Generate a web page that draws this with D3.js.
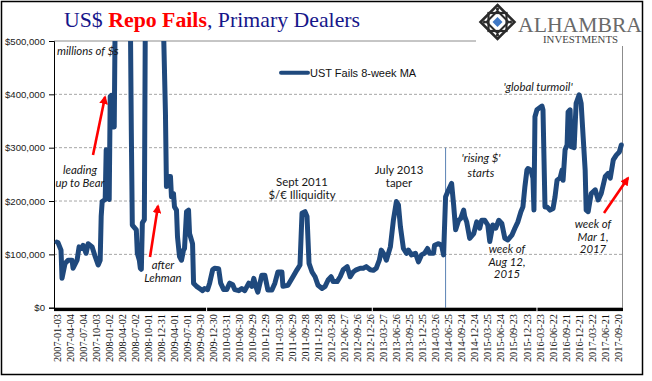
<!DOCTYPE html>
<html>
<head>
<meta charset="utf-8">
<script src="https://cdn.jsdelivr.net/npm/d3@7"></script>
<style>
  body { margin: 0; background: #fff; }
  svg { display: block; }
</style>
</head>
<body>
<div id="chart"></div>
<script>
// weeks counted from 2007-01-03 (weekly series, 8-week moving average)
var weekNo = [0,1,4,5,8,11,15,16,20,22,25,26,29,31,35,38,41,43,44,45,48,49,50,52,53,54,55,57,
  58,60,66,71,73,74,75,79,80,82,83,84,85,87,88,92,100,105,106,108,109,111,113,114,116,117,119,120,
  122,124,126,127,129,131,132,135,136,139,142,145,147,150,152,155,157,161,163,166,169,172,175,177,
  181,184,187,191,194,196,198,200,204,207,210,214,217,220,224,225,230,235,239,242,244,247,249,251,
  254,257,260,264,267,270,273,275,279,282,285,289,292,295,298,302,305,308,312,315,318,321,323,326,
  328,332,335,338,340,342,345,348,350,353,357,360,363,366,369,371,375,376,380,383,385,387,390,393,
  395,397,400,402,405,406,408,411,415,418,421,423,426,429,431,434,437,440,443,446,449,453,456,459,
  462,464,466,468,469,472,474,475,476,478,483,484,486,488,491,494,496,498,501,503,504,506,508,509,
  511,512,515,517,520,522,524,526,527,529,532,536,539,542,546,549,551,554,557,560,562]

// UST fails, millions of $
var fails = [123000,122000,108000,55000,83000,89000,89000,74000,89000,114000,111000,117000,102000,120000,114000,96000,80000,89000,171000,199000,203000,296000,208000,203000,396000,398000,339000,339000,
  560000,800000,900000,800000,560000,333000,155000,146000,102000,89000,74000,72000,159000,165000,560000,850000,850000,700000,530000,365000,227000,246000,246000,208000,214000,189000,183000,133000,
  96000,89000,108000,111000,180000,183000,139000,120000,46000,40000,36000,32000,36000,34000,46000,71000,74000,73000,46000,34000,34000,46000,43000,34000,
  32000,36000,32000,46000,40000,55000,40000,29000,61000,61000,33000,33000,46000,67000,67000,40000,42000,58000,71000,80000,177000,180000,171000,83000,
  67000,58000,42000,36000,40000,52000,58000,49000,49000,58000,71000,77000,58000,67000,71000,74000,74000,77000,71000,70000,74000,89000,108000,99000,
  89000,114000,164000,199000,193000,152000,111000,102000,108000,99000,102000,86000,99000,102000,111000,102000,102000,117000,120000,117000,99000,208000,221000,233000,
  193000,146000,164000,167000,183000,171000,161000,130000,139000,161000,149000,164000,164000,155000,124000,155000,149000,164000,158000,130000,127000,136000,149000,161000,
  180000,189000,227000,258000,261000,258000,243000,183000,358000,371000,378000,371000,189000,189000,183000,186000,208000,239000,243000,258000,239000,296000,305000,367000,
  371000,302000,300000,383000,399000,383000,320000,258000,183000,180000,214000,221000,202000,214000,246000,252000,243000,277000,286000,292000,305000]

var tickLabels = ["2007-01-03","2007-04-04","2007-07-04","2007-10-03","2008-01-02","2008-04-02","2008-07-02","2008-10-01",
  "2008-12-31","2009-04-01","2009-07-01","2009-09-30","2009-12-30","2010-03-31","2010-06-30","2010-09-29","2010-12-29",
  "2011-03-30","2011-06-29","2011-09-28","2011-12-28","2012-03-28","2012-06-27","2012-09-26","2012-12-26","2013-03-27",
  "2013-06-26","2013-09-25","2013-12-25","2014-03-26","2014-06-25","2014-09-24","2014-12-24","2015-03-25","2015-06-24",
  "2015-09-23","2015-12-23","2016-03-23","2016-06-22","2016-09-21","2016-12-21","2017-03-22","2017-06-21","2017-09-20"]
var yTicks = [0, 100000, 200000, 300000, 400000, 500000]
var axisMarkWeeks = [149, 314, 478]
var eventWeek = 387

var W = 652, H = 381
var plotL = 54, plotR = 622, plotT = 41, plotB = 307.7
var navy = "#1f497d"

var svg = d3.select("#chart").append("svg")
  .attr("width", W).attr("height", H)
  .style("font-family", "'Liberation Sans', Arial, sans-serif")

// outer frame
svg.append("rect").attr("x", 1.5).attr("y", 1.5).attr("width", 641).attr("height", 373)
  .attr("fill", "#fff").attr("stroke", "#000").attr("stroke-width", 1.5)

var x = d3.scaleLinear().domain([0, 559]).range([57, 618.3])
var y = d3.scaleLinear().domain([0, 500000]).range([plotB, plotT])

// gridlines
svg.append("g").selectAll("line").data(yTicks.slice(1))
  .enter().append("line")
  .attr("x1", plotL).attr("x2", plotR)
  .attr("y1", function(d){ return y(d) }).attr("y2", function(d){ return y(d) })
  .attr("stroke", function(d){ return d == 500000 ? "#8c8c8c" : "#a6a6a6" })
  .attr("stroke-dasharray", function(d){ return d == 500000 ? null : "3,2" })
  .attr("stroke-width", 1)

// right edge of plot area
svg.append("line").attr("x1", plotR + 0.5).attr("x2", plotR + 0.5).attr("y1", plotT).attr("y2", plotB)
  .attr("stroke", "#8c8c8c")

// y axis
var yAxis = d3.axisLeft(y).tickValues(yTicks).tickSize(5).tickPadding(4)
  .tickFormat(function(d){ return "$" + d3.format(",")(d) })
var gy = svg.append("g").attr("transform", "translate(" + plotL + ",0)").call(yAxis)
gy.select(".domain").attr("stroke", "#000")
gy.selectAll(".tick line").attr("stroke", "#000")
gy.selectAll("text").attr("fill", "#1a1a1a").style("font-size", "9.6px")
  .style("font-family", "'Liberation Sans', Arial, sans-serif")

// event marker line
svg.append("line").attr("x1", x(eventWeek)).attr("x2", x(eventWeek))
  .attr("y1", y(300000)).attr("y2", plotB)
  .attr("stroke", "#5b83b5").attr("stroke-width", 1)

// the series, clipped to the plot area
svg.append("clipPath").attr("id", "plotclip").append("rect")
  .attr("x", 0).attr("y", plotT).attr("width", W).attr("height", plotB - plotT + 2)

var series = weekNo.map(function(w, i){ return {week: w, value: fails[i]} })
var line = d3.line()
  .x(function(d){ return x(d.week) })
  .y(function(d){ return y(d.value) })

svg.append("path").datum(series)
  .attr("clip-path", "url(#plotclip)")
  .attr("d", line)
  .attr("fill", "none")
  .attr("stroke", navy)
  .attr("stroke-width", 5)
  .attr("stroke-linejoin", "round")
  .attr("stroke-linecap", "round")

// x axis: thick black bar with small white marks
svg.append("rect").attr("x", plotL).attr("y", plotB).attr("width", plotR - plotL + 1).attr("height", 3.4)
  .attr("fill", "#000")
svg.append("g").selectAll("line").data(axisMarkWeeks).enter().append("line")
  .attr("x1", function(d){ return x(d) }).attr("x2", function(d){ return x(d) })
  .attr("y1", plotB - 1).attr("y2", plotB + 3.4)
  .attr("stroke", "#fff").attr("stroke-width", 1)

svg.append("g").selectAll("text").data(tickLabels).enter().append("text")
  .attr("transform", function(d, i){ return "translate(" + (x(i * 13) + 3.6) + "," + 314 + ") rotate(-90)" })
  .attr("text-anchor", "end")
  .style("font-family", "'Liberation Serif', 'Times New Roman', serif")
  .style("font-size", "10.3px")
  .attr("fill", "#111")
  .text(function(d){ return d })

// legend
svg.append("line").attr("x1", 281).attr("x2", 308).attr("y1", 72.7).attr("y2", 72.7)
  .attr("stroke", navy).attr("stroke-width", 4).attr("stroke-linecap", "round")
svg.append("text").attr("x", 310).attr("y", 77).style("font-size", "11px").attr("fill", "#111")
  .text("UST Fails 8-week MA")

// title
var title = svg.append("text").attr("x", 64).attr("y", 27)
  .style("font-family", "'Liberation Serif', 'Times New Roman', serif")
  .style("font-size", "21.8px").attr("fill", "#16168a")
title.append("tspan").text("US$ ")
title.append("tspan").text("Repo Fails").attr("fill", "#ff0000").attr("font-weight", "bold")
title.append("tspan").text(", Primary Dealers")

// logo
var logo = svg.append("g")
logo.append("rect").attr("x", 476).attr("y", 3).attr("width", 165).attr("height", 43).attr("fill", "#fff")
var icon = logo.append("g").attr("transform", "translate(497.5,22)")
function diamond(r){ return "M0," + (-r) + "L" + r + ",0L0," + r + "L" + (-r) + ",0Z" }
icon.append("path").attr("d", diamond(17)).attr("fill", "none").attr("stroke", "#2b2b2b").attr("stroke-width", 2.6)
icon.append("rect").attr("x", -9).attr("y", -9).attr("width", 18).attr("height", 18)
  .attr("fill", "none").attr("stroke", "#2b2b2b").attr("stroke-width", 2.2)
icon.append("path").attr("d", diamond(11)).attr("fill", "none").attr("stroke", "#2b2b2b").attr("stroke-width", 2)
icon.selectAll("circle.k").data([[0,-13],[13,0],[0,13],[-13,0]]).enter().append("circle")
  .attr("cx", function(d){ return d[0] }).attr("cy", function(d){ return d[1] }).attr("r", 1.6)
  .attr("fill", "#2b2b2b")
icon.append("path").attr("d", diamond(5)).attr("fill", "#3f78c5")
logo.append("text").attr("x", 518).attr("y", 31.5).attr("textLength", 124).attr("lengthAdjust", "spacingAndGlyphs")
  .style("font-family", "'Liberation Serif', 'Times New Roman', serif").style("font-size", "22px")
  .attr("fill", "#6a6a6a").text("ALHAMBRA")
logo.append("text").attr("x", 543).attr("y", 43).attr("textLength", 75).attr("lengthAdjust", "spacingAndGlyphs")
  .style("font-family", "'Liberation Serif', 'Times New Roman', serif").style("font-size", "9.3px")
  .attr("fill", "#444").text("INVESTMENTS")
logo.append("line").attr("x1", plotR + 0.5).attr("x2", plotR + 0.5).attr("y1", 46).attr("y2", 50).attr("stroke", "#8c8c8c")

// annotations
function note(lines, cx, y0, dy, italic, anchor){
  var t = svg.append("text").attr("text-anchor", anchor || "middle")
    .style("font-family", "Lato, 'Open Sans', sans-serif").style("font-size", "11.4px")
    .style("font-style", italic ? "italic" : "normal").attr("fill", "#161616")
  lines.forEach(function(s, i){ t.append("tspan").attr("x", cx).attr("y", y0 + i * dy).text(s) })
}
note(["millions of $s"], 57, 55, 0, true, "start")
note(["leading", "up to Bear"], 80, 174, 13.3, true)
note(["after", "Lehman"], 163, 269, 13, true)
note(["Sept 2011", "$/\u20ac Illiquidity"], 302, 186, 12.5, false)
note(["July 2013", "taper"], 399, 174, 13, false)
note(["'rising $'", "starts"], 481, 162, 15, true)
note(["week of", "Aug 12,", "2015"], 507, 253, 12.7, true)
note(["week of", "Mar 1,", "2017"], 593, 228, 12.6, true)
note(["'global turmoil'"], 538, 91, 0, true)

// red arrows
svg.append("defs").append("marker").attr("id", "head")
  .attr("viewBox", "0 0 10 10").attr("refX", 8).attr("refY", 5)
  .attr("markerWidth", 3.4).attr("markerHeight", 3.4).attr("orient", "auto")
  .append("path").attr("d", "M0,0L10,5L0,10Z").attr("fill", "#ff0000")
var arrows = [[93, 155, 105, 97], [150, 257, 158, 206], [604, 213, 628, 178]]
svg.append("g").selectAll("line").data(arrows).enter().append("line")
  .attr("x1", function(d){ return d[0] }).attr("y1", function(d){ return d[1] })
  .attr("x2", function(d){ return d[2] }).attr("y2", function(d){ return d[3] })
  .attr("stroke", "#ff0000").attr("stroke-width", 2.6)
  .attr("marker-end", "url(#head)")
</script>
</body>
</html>
